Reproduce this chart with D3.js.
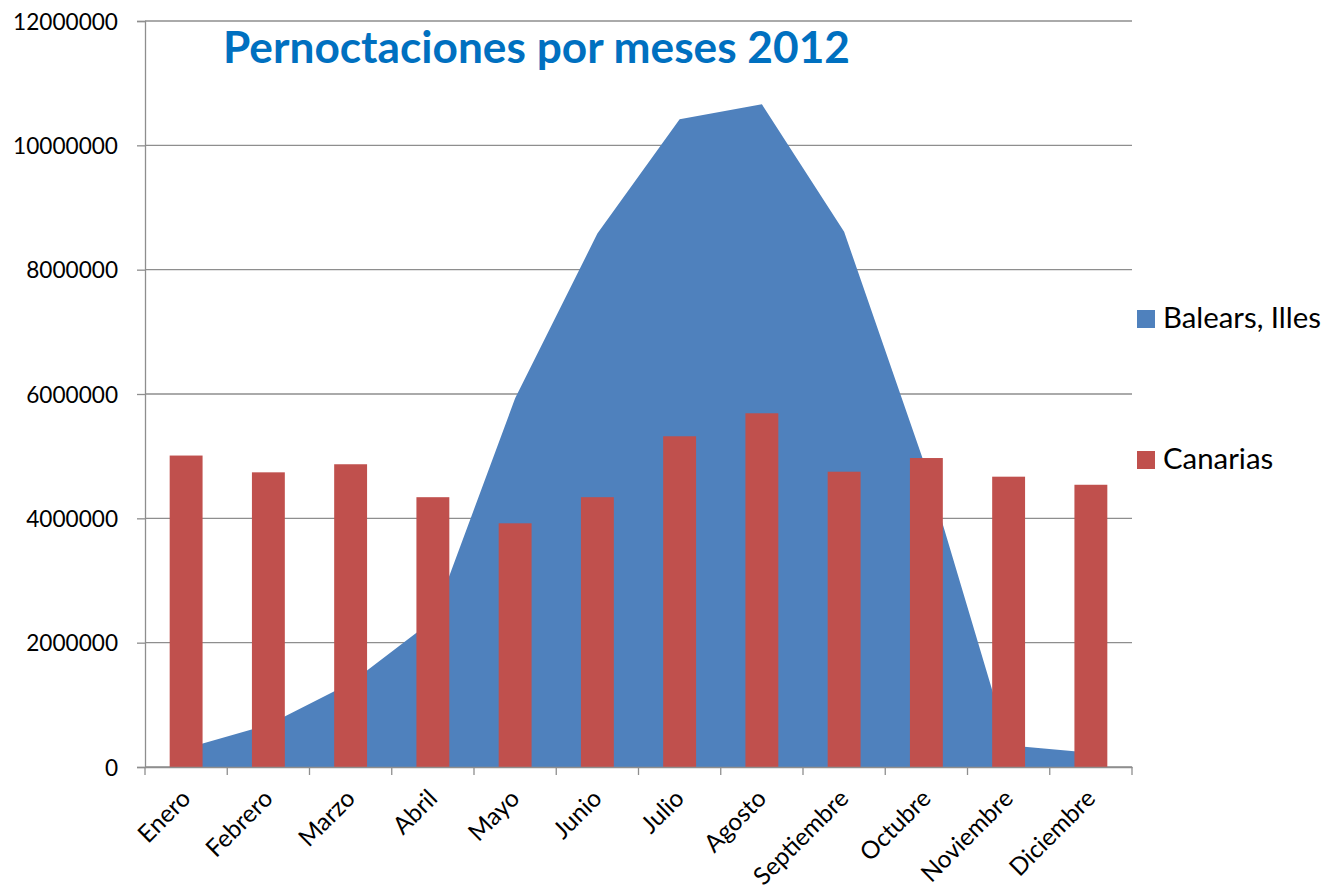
<!DOCTYPE html>
<html>
<head>
<meta charset="utf-8">
<script src="https://cdn.jsdelivr.net/npm/d3@7"></script>
<style>
  html, body { margin: 0; padding: 0; background: #fff; }
  svg { display: block; font-family: Lato, "Open Sans", sans-serif; }
</style>
</head>
<body>
<svg id="chart" width="1327" height="887"></svg>
<script>
// Monthly overnight stays, 2012
const months = ["Enero","Febrero","Marzo","Abril","Mayo","Junio","Julio","Agosto","Septiembre","Octubre","Noviembre","Diciembre"];
const baleares = [300000, 680000, 1350000, 2360000, 5930000, 8580000, 10420000, 10660000, 8610000, 4790000, 350000, 230000];
const canarias = [5010000, 4740000, 4870000, 4340000, 3920000, 4340000, 5320000, 5690000, 4750000, 4970000, 4670000, 4540000];
const yTicks = [0, 2000000, 4000000, 6000000, 8000000, 10000000, 12000000];
const seriesNames = ["Balears, Illes", "Canarias"];
const title = "Pernoctaciones por meses 2012";

const blue = "#4F81BD", red = "#C0504D", grid = "#8E8E8E";
const svg = d3.select("#chart");
const plotL = 145, plotR = 1132, plotT = 21, plotB = 767;

const x = d3.scaleBand().domain(months).range([plotL, plotR]).padding(0);
const y = d3.scaleLinear().domain([0, 12000000]).range([plotB, plotT]);
const cx = m => x(m) + x.bandwidth() / 2;
const barW = x.bandwidth() / 2.5;

// scale a label's font so a sample string spans the given width
function fitSize(sample, weight, target) {
  const t = svg.append("text").attr("font-size", 20).attr("font-weight", weight).text(sample);
  const w = t.node().getComputedTextLength();
  t.remove();
  return 20 * target / w;
}
const tickSize = fitSize("12000000", "normal", 105);
const catSize = fitSize("Noviembre", "normal", 118);
const legendSize = fitSize("Balears, Illes", "normal", 158);
const titleSize = fitSize(title, "bold", 627);

// horizontal gridlines
svg.append("g").selectAll("line").data(yTicks).join("line")
  .attr("x1", plotL).attr("x2", plotR)
  .attr("y1", d => y(d)).attr("y2", d => y(d))
  .attr("stroke", grid).attr("stroke-width", 1.3);

// Balears area
const area = d3.area().x(d => cx(d.m)).y0(y(0)).y1(d => y(d.v));
svg.append("path")
  .datum(months.map((m, i) => ({ m, v: baleares[i] })))
  .attr("d", area).attr("fill", blue);

// Canarias bars
svg.append("g").selectAll("rect").data(months.map((m, i) => ({ m, v: canarias[i] }))).join("rect")
  .attr("x", d => cx(d.m) - barW / 2).attr("width", barW)
  .attr("y", d => y(d.v)).attr("height", d => y(0) - y(d.v))
  .attr("fill", red);

// y axis
const yAxis = svg.append("g").attr("transform", `translate(${plotL},0)`)
  .call(d3.axisLeft(y).tickValues(yTicks).tickSize(8).tickPadding(19).tickFormat(d3.format("d")));
yAxis.select(".domain").attr("stroke", grid).attr("stroke-width", 1.3);
yAxis.selectAll(".tick line").attr("stroke", grid).attr("stroke-width", 1.3);
yAxis.selectAll(".tick text").attr("font-size", tickSize).attr("font-family", "Lato, sans-serif").attr("fill", "#000").attr("dy", "0.36em");

// x axis
const xAxis = svg.append("g").attr("transform", `translate(0,${plotB})`)
  .call(d3.axisBottom(x).tickSize(0).tickFormat(""));
xAxis.select(".domain").attr("stroke", grid).attr("stroke-width", 1.3);
svg.append("g").selectAll("line").data(d3.range(months.length + 1)).join("line")
  .attr("x1", i => plotL + i * x.bandwidth()).attr("x2", i => plotL + i * x.bandwidth())
  .attr("y1", plotB).attr("y2", plotB + 8)
  .attr("stroke", grid).attr("stroke-width", 1.3);

svg.append("g").selectAll("text").data(months).join("text")
  .attr("transform", d => `translate(${cx(d) + 6},${plotB + 33}) rotate(-45)`)
  .attr("text-anchor", "end")
  .attr("font-size", catSize).attr("fill", "#000")
  .text(d => d);

// title
svg.append("text").attr("x", 223).attr("y", 63)
  .attr("font-size", titleSize).attr("font-weight", "bold").attr("fill", "#0070C0")
  .text(title);

// legend
const legendY = [328, 469];
const legend = svg.append("g").selectAll("g").data(seriesNames).join("g");
legend.append("rect")
  .attr("x", 1137).attr("y", (d, i) => legendY[i] - 18).attr("width", 18).attr("height", 18)
  .attr("fill", (d, i) => i === 0 ? blue : red);
legend.append("text")
  .attr("x", 1163).attr("y", (d, i) => legendY[i])
  .attr("font-size", legendSize).attr("fill", "#000")
  .text(d => d);
</script>
</body>
</html>
